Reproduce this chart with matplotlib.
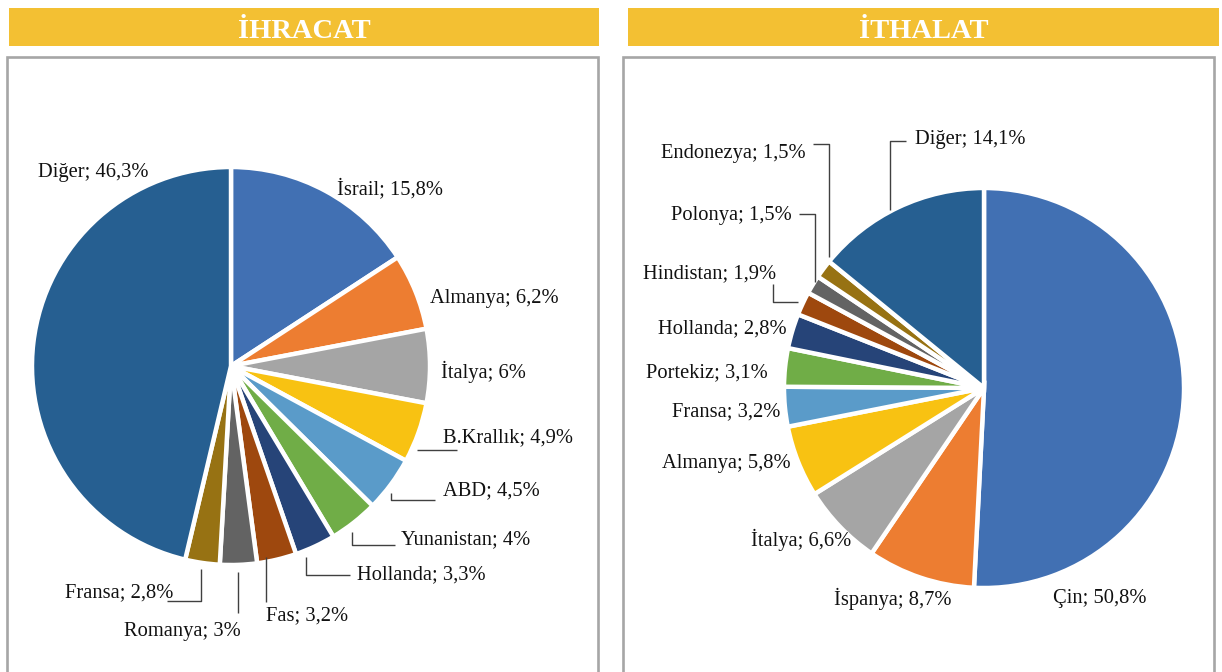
import matplotlib
matplotlib.use("Agg")
import matplotlib.pyplot as plt
from matplotlib.patches import Rectangle

# ---------------- data ----------------
ihracat_labels = ["İsrail", "Almanya", "İtalya", "B.Krallık", "ABD", "Yunanistan",
                  "Hollanda", "Fas", "Romanya", "Fransa", "Diğer"]
ihracat_values = [15.8, 6.2, 6.0, 4.9, 4.5, 4.0, 3.3, 3.2, 3.0, 2.8, 46.3]
ihracat_text = ["15,8", "6,2", "6", "4,9", "4,5", "4", "3,3", "3,2", "3", "2,8", "46,3"]

ithalat_labels = ["Çin", "İspanya", "İtalya", "Almanya", "Fransa", "Portekiz",
                  "Hollanda", "Hindistan", "Polonya", "Endonezya", "Diğer"]
ithalat_values = [50.8, 8.7, 6.6, 5.8, 3.2, 3.1, 2.8, 1.9, 1.5, 1.5, 14.1]
ithalat_text = ["50,8", "8,7", "6,6", "5,8", "3,2", "3,1", "2,8", "1,9", "1,5", "1,5", "14,1"]

titles = ["İHRACAT", "İTHALAT"]

# ---------------- style ----------------
colors = ["#4170B3", "#ED7D31", "#A5A5A5", "#F8C212", "#5A9BC9", "#70AD47",
          "#264478", "#9E480E", "#636363", "#977213", "#265F91"]
W, H = 1222, 672
SERIF = "Liberation Serif"
LABEL_FS = 14.8
LEADER_C = "#404040"

fig = plt.figure(figsize=(W / 100, H / 100), dpi=100)
ax = fig.add_axes([0, 0, 1, 1])


def Y(y):
    return H - y


# headers and boxes
headers = [(9, 599), (628, 1219)]
boxes = [(7, 598), (623, 1214)]
for (x0, x1), title in zip(headers, titles):
    ax.add_patch(Rectangle((x0, Y(46)), x1 - x0, 38, facecolor="#F3C033",
                           edgecolor="none", zorder=1))
    ax.text((x0 + x1) / 2, Y(38), title, ha="center", va="baseline",
            color="white", fontsize=20.5, fontweight="bold", family=SERIF, zorder=3)
for x0, x1 in boxes:
    ax.add_patch(Rectangle((x0, Y(700)), x1 - x0, 700 - 57, facecolor="white",
                           edgecolor="#A6A6A6", linewidth=1.9, zorder=1))

wp = dict(edgecolor="white", linewidth=3.2)

# pies
ax.pie(ihracat_values, colors=colors, startangle=90, counterclock=False,
       center=(231, Y(366)), radius=199, wedgeprops=wp, frame=True)
explode_ith = [0.015] + [0] * (len(ithalat_values) - 1)
ax.pie(ithalat_values, colors=colors, startangle=90, counterclock=False,
       center=(984, Y(388)), radius=200, wedgeprops=wp, explode=explode_ith,
       frame=True)

# label layout (pixel coords of text anchor)
ihr_pos = {"İsrail": (337, 187, "left"), "Almanya": (430, 297, "left"),
           "İtalya": (441, 370, "left"), "B.Krallık": (443, 436, "left"),
           "ABD": (443, 489, "left"), "Yunanistan": (401, 538, "left"),
           "Hollanda": (357, 573, "left"), "Fas": (266, 614, "left"),
           "Romanya": (241, 630, "right"), "Fransa": (173, 591, "right"),
           "Diğer": (38, 171, "left")}
ith_pos = {"Çin": (1053, 597, "left"), "İspanya": (951, 597, "right"),
           "İtalya": (851, 538, "right"), "Almanya": (791, 462, "right"),
           "Fransa": (780, 410, "right"), "Portekiz": (768, 371, "right"),
           "Hollanda": (787, 327, "right"), "Hindistan": (776, 272, "right"),
           "Polonya": (792, 214, "right"), "Endonezya": (806, 152, "right"),
           "Diğer": (915, 138, "left")}

for labels, texts, pos in ((ihracat_labels, ihracat_text, ihr_pos),
                           (ithalat_labels, ithalat_text, ith_pos)):
    for lab, t in zip(labels, texts):
        x, y, ha = pos[lab]
        ax.text(x, Y(y + 1.5), f"{lab}; {t}%", ha=ha, va="center", fontsize=LABEL_FS,
                family=SERIF, color="#111111", zorder=4)

# leader lines (annotation layout)
leaders = [
    [(417, 450), (457, 450)],
    [(391, 493), (391, 500), (435, 500)],
    [(352, 532), (352, 545), (395, 545)],
    [(306, 557), (306, 575), (350, 575)],
    [(266, 557), (266, 602)],
    [(238, 572), (238, 613)],
    [(201, 569), (201, 601), (167, 601)],
    [(906, 141), (890, 141), (890, 210)],
    [(813, 144), (829, 144), (829, 257)],
    [(799, 214), (815, 214), (815, 282)],
    [(773, 284), (773, 302), (798, 302)],
]
for pts in leaders:
    ax.plot([p[0] for p in pts], [Y(p[1]) for p in pts], color=LEADER_C,
            linewidth=1.0, zorder=3, solid_capstyle="butt")

ax.set_xlim(0, W)
ax.set_ylim(0, H)
ax.set_aspect("auto")
ax.set_axis_off()
fig.savefig("out.png", dpi=100)
